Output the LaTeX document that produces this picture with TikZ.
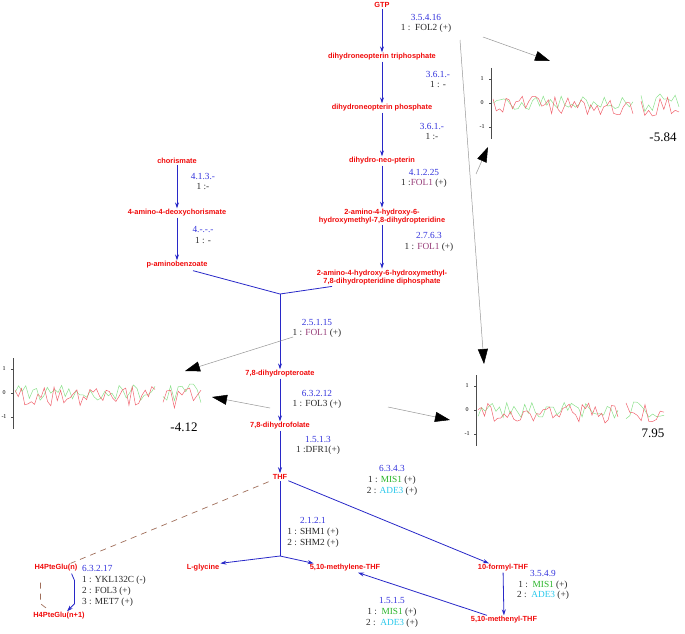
\documentclass[tikz,border=0pt]{standalone}
\usepackage{fontspec}
\setmainfont{Liberation Serif}
\newfontfamily\metfont{Liberation Sans}
\usetikzlibrary{arrows.meta,calc}
\definecolor{ecblue}{RGB}{50,50,220}
\definecolor{metred}{RGB}{240,10,10}
\definecolor{lineblue}{RGB}{40,40,200}
\definecolor{folc}{RGB}{150,60,120}
\definecolor{misc}{RGB}{40,180,40}
\definecolor{adec}{RGB}{40,200,235}
\definecolor{grayl}{RGB}{150,150,150}
\definecolor{dashbrown}{RGB}{160,110,90}
\definecolor{chartred}{RGB}{240,100,110}
\definecolor{chartgreen}{RGB}{140,225,140}
\newcommand{\ecn}[1]{\textcolor{ecblue}{#1}}
\newcommand{\seriesplot}[4]{%
  \begin{scope}[shift={(#1,#2)}]
    \draw[black!70, line width=0.5pt] (0,-35) -- (0,36);
    \foreach \v/\t in {-24/1,0/0,24/-1}{
      \draw[black!70, line width=0.4pt] (-2,\v) -- (0,\v);
      \node[ticklab] at (-9,\v) {\t};
    }
    \pgfmathsetseed{#3}
    \draw[chartgreen, line width=0.5pt] plot[domain=2:142, samples=40] (\x,{8*rand});
    \draw[chartgreen, line width=0.5pt] plot[domain=150:188, samples=11] (\x,{10*rand});
    \pgfmathsetseed{#4}
    \draw[chartred, line width=0.5pt] plot[domain=2:142, samples=44] (\x,{3+10*rand});
    \draw[chartred, line width=0.5pt] plot[domain=150:188, samples=11] (\x,{3+12*rand});
  \end{scope}}
\begin{document}
\begin{tikzpicture}[x=1pt,y=-1pt,
  met/.style={text=metred, font=\metfont\bfseries\fontsize{7.4}{8.5}\selectfont, align=center, inner sep=1pt},
  ec/.style={align=center, font=\fontsize{9.3}{10.8}\selectfont, inner sep=0pt, text=black!85},
  ticklab/.style={font=\fontsize{6}{7}\selectfont, inner sep=0pt},
  bignum/.style={font=\fontsize{13}{14}\selectfont, inner sep=0pt},
  rx/.style={draw=lineblue, line width=0.8pt, -{Stealth[length=6pt,width=4pt]}},
  rl/.style={draw=lineblue, line width=0.8pt},
  pointer/.style={draw=grayl, line width=0.5pt, -{Triangle[length=15pt,width=10pt,black]}},
  dsh/.style={draw=dashbrown, line width=0.7pt, dash pattern=on 6pt off 5pt}]
\useasboundingbox (0,0) rectangle (685,634);

% metabolites
\node[met] (gtp) at (382,5) {GTP};
\node[met] (dntp) at (382,57) {dihydroneopterin triphosphate};
\node[met] (dnp) at (382,108) {dihydroneopterin phosphate};
\node[met] (dnpt) at (382,161) {dihydro-neo-pterin};
\node[met] (ahhd) at (382,216.5) {2-amino-4-hydroxy-6-\\hydroxymethyl-7,8-dihydropteridine};
\node[met] (ahhdp) at (382,277.5) {2-amino-4-hydroxy-6-hydroxymethyl-\\7,8-dihydropteridine diphosphate};
\node[met] (chor) at (177,161) {chorismate};
\node[met] (adc) at (177,213) {4-amino-4-deoxychorismate};
\node[met] (paba) at (177,265) {p-aminobenzoate};
\node[met] (dhp) at (280,374) {7,8-dihydropteroate};
\node[met] (dhf) at (280,426) {7,8-dihydrofolate};
\node[met] (thf) at (280,477) {THF};
\node[met] (gly) at (203,568) {L-glycine};
\node[met] (mthf) at (345,568) {5,10-methylene-THF};
\node[met] (fthf) at (503,568) {10-formyl-THF};
\node[met] (methf) at (504,620) {5,10-methenyl-THF};
\node[met] (glun) at (56,568) {H4PteGlu(n)};
\node[met] (glun1) at (59,616) {H4PteGlu(n+1)};

% enzyme labels
\node[ec] (e1) at (426,23.5) {\ecn{3.5.4.16}\\1 :\ \ FOL2 (+)};
\node[ec] (e2) at (438,79.5) {\ecn{3.6.1.-}\\1 : -};
\node[ec] (e3) at (432,131.5) {\ecn{3.6.1.-}\\1 :-};
\node[ec] (e4) at (424,178.5) {\ecn{4.1.2.25}\\1 :\textcolor{folc}{FOL1} (+)};
\node[ec] (e5) at (429,242) {\ecn{2.7.6.3}\\1 : \textcolor{folc}{FOL1} (+)};
\node[ec] (e6) at (203,181.5) {\ecn{4.1.3.-}\\1 :-};
\node[ec] (e7) at (203,235) {\ecn{4.-.-.-}\\1 : -};
\node[ec] (e8) at (317,328.5) {\ecn{2.5.1.15}\\1 : \textcolor{folc}{FOL1} (+)};
\node[ec] (e9) at (317,399.5) {\ecn{6.3.2.12}\\1 : FOL3 (+)};
\node[ec] (e10) at (318,445.5) {\ecn{1.5.1.3}\\1 :DFR1(+)};
\node[ec] (e11) at (313,532.5) {\ecn{2.1.2.1}\\1 : SHM1 (+)\\2 : SHM2 (+)};
\node[ec] (e12) at (392,480.5) {\ecn{6.3.4.3}\\1 : \textcolor{misc}{MIS1} (+)\\2 : \textcolor{adec}{ADE3} (+)};
\node[ec] (e13) at (543,585) {\ecn{3.5.4.9}\\1 :\ \ \textcolor{misc}{MIS1} (+)\\2 :\ \ \textcolor{adec}{ADE3} (+)};
\node[ec] (e14) at (392,612.5) {\ecn{1.5.1.5}\\1 :\ \ \textcolor{misc}{MIS1} (+)\\2 :\ \ \textcolor{adec}{ADE3} (+)};
\node[ec, align=left, anchor=west] (e15) at (82,586) {\ecn{6.3.2.17}\\1 : YKL132C (-)\\2 : FOL3 (+)\\3 : MET7 (+)};

% reactions
\coordinate (j1) at (280,294);
\coordinate (j2) at (280,556);
\draw[rx] (gtp) -- (dntp);
\draw[rx] (dntp) -- (dnp);
\draw[rx] (dnp) -- (dnpt);
\draw[rx] (dnpt) -- (ahhd);
\draw[rx] (ahhd) -- (ahhdp);
\draw[rx] (chor) -- (adc);
\draw[rx] (adc) -- (paba);
\draw[rl] ($(paba.south)+(16,1)$) -- (j1) -- ($(ahhdp.south)+(-50,0)$);
\draw[rx] (j1) -- (dhp);
\draw[rx] (dhp) -- (dhf);
\draw[rx] (dhf) -- (thf);
\draw[rl] (thf) -- (j2);
\draw[rx] (j2) -- (gly.north east);
\draw[rx] (j2) -- ($(mthf.north west)+(5,0)$);
\draw[rx] (thf.south east) -- ($(fthf.north)+(-14,0)$);
\draw[rx] (fthf) -- (methf);
\draw[rx] ($(methf.north)+(-17,0)$) -- ($(mthf.south)+(13,0)$);
\draw[rx] ($(glun.south east)+(-7,1)$) -- ++(3,7) -- ++(0,23) -- ($(glun1.north)+(8,0)$);
\draw[dsh] ($(thf.south west)+(-3,1)$) -- ($(glun.north east)+(-8,0)$);
\draw[dsh] ($(glun.south west)+(7,10)$) -- ++(0,21) -- ($(glun1.north west)+(17,-1)$);

% expression charts
\seriesplot{491}{103}{11}{27}
\seriesplot{13}{393}{5}{42}
\seriesplot{476}{410}{73}{19}
\node[bignum] (n1) at (663,137) {-5.84};
\node[bignum] (n2) at (184,427) {-4.12};
\node[bignum] (n3) at (653,433) {7.95};

% pointers
\coordinate (p1s) at (483,37);  \coordinate (p1e) at (550,61);
\coordinate (p2s) at (460,40);  \coordinate (p2e) at (484,364);
\coordinate (p3s) at (476,174); \coordinate (p3e) at (488,147);
\coordinate (p4s) at (293,337); \coordinate (p4e) at (185,371);
\coordinate (p5s) at (270,408); \coordinate (p5e) at (212,397);
\coordinate (p6s) at (388,407); \coordinate (p6e) at (450,420);
\draw[pointer] (p1s) -- (p1e);
\draw[pointer] (p2s) -- (p2e);
\draw[pointer] (p3s) -- (p3e);
\draw[pointer] (p4s) -- (p4e);
\draw[pointer] (p5s) -- (p5e);
\draw[pointer] (p6s) -- (p6e);
\end{tikzpicture}
\end{document}
